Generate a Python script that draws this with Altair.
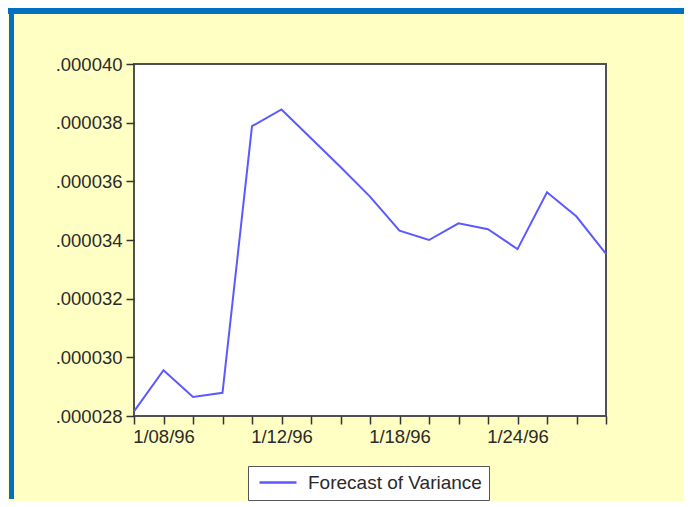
import altair as alt
import pandas as pd

dates = ["1/05/96", "1/08/96", "1/09/96", "1/10/96", "1/11/96", "1/12/96",
         "1/15/96", "1/16/96", "1/17/96", "1/18/96", "1/19/96", "1/22/96",
         "1/23/96", "1/24/96", "1/25/96", "1/26/96", "1/29/96"]
variance = [0.00002816, 0.00002956, 0.00002865, 0.00002879, 0.00003788, 0.00003845,
            0.00003747, 0.00003649, 0.00003548, 0.00003432, 0.00003400, 0.00003457,
            0.00003437, 0.00003369, 0.00003563, 0.00003480, 0.00003353]
x_labels = ["1/08/96", "1/12/96", "1/18/96", "1/24/96"]
y_ticks = [0.000028, 0.000030, 0.000032, 0.000034, 0.000036, 0.000038, 0.000040]
series_name = "Forecast of Variance"

df = pd.DataFrame({"date": dates, "value": variance, "series": series_name})

FONT = "Liberation Sans, Arial, sans-serif"
TXT = "#2a2a2a"
W, H = 472, 352
LEFT, TOP = 126, 56
CW, CH = 676, 491

label_list = "[" + ",".join("'%s'" % s for s in x_labels) + "]"

line = alt.Chart(df).mark_line(strokeWidth=2).encode(
    x=alt.X("date:O", sort=None,
            scale=alt.Scale(type="point", padding=0),
            axis=alt.Axis(title=None, labelAngle=0, labelOverlap=False,
                          labelExpr="indexof(%s, datum.value) >= 0 ? datum.value : ''" % label_list,
                          tickSize=8, tickWidth=1.5, tickColor="#333333",
                          domain=False, grid=False, labelPadding=3,
                          labelFontSize=18.5, labelFont=FONT, labelColor=TXT)),
    y=alt.Y("value:Q",
            scale=alt.Scale(domain=[0.000028, 0.000040], nice=False, zero=False),
            axis=alt.Axis(title=None, values=y_ticks,
                          labelExpr="slice(format(datum.value, '.6f'), 1)",
                          tickSize=8, tickWidth=1.5, tickColor="#333333",
                          domain=False, grid=False, labelPadding=4,
                          labelFontSize=18.5, labelFont=FONT, labelColor=TXT)),
    color=alt.Color("series:N", scale=alt.Scale(range=["#5a5aff"]),
                    legend=alt.Legend(title=None, orient="none", legendX=114, legendY=402,
                                      symbolType="stroke", symbolSize=37 * 37,
                                      symbolStrokeWidth=2.5, symbolOffset=3,
                                      clipHeight=19, padding=7, labelOffset=10,
                                      labelFontSize=19, labelFont=FONT, labelColor=TXT,
                                      labelLimit=0, strokeColor="#555555",
                                      fillColor="white")),
)

deco = pd.DataFrame({"k": [0]})
top_bar = alt.Chart(deco).mark_rect(color="#0070C0").encode(
    x=alt.value(-LEFT), x2=alt.value(CW - LEFT),
    y=alt.value(-TOP), y2=alt.value(-TOP + 6))
left_bar = alt.Chart(deco).mark_rect(color="#0070C0").encode(
    x=alt.value(-LEFT + 1), x2=alt.value(-LEFT + 6),
    y=alt.value(-TOP), y2=alt.value(CH - TOP))

chart = alt.layer(top_bar, left_bar, line).properties(
    width=W, height=H, padding=0, background="#FFFFC4"
).configure_view(stroke="#505050", strokeWidth=2, fill="white")

chart.save("out.html", embed_options={"renderer": "svg", "actions": False})
